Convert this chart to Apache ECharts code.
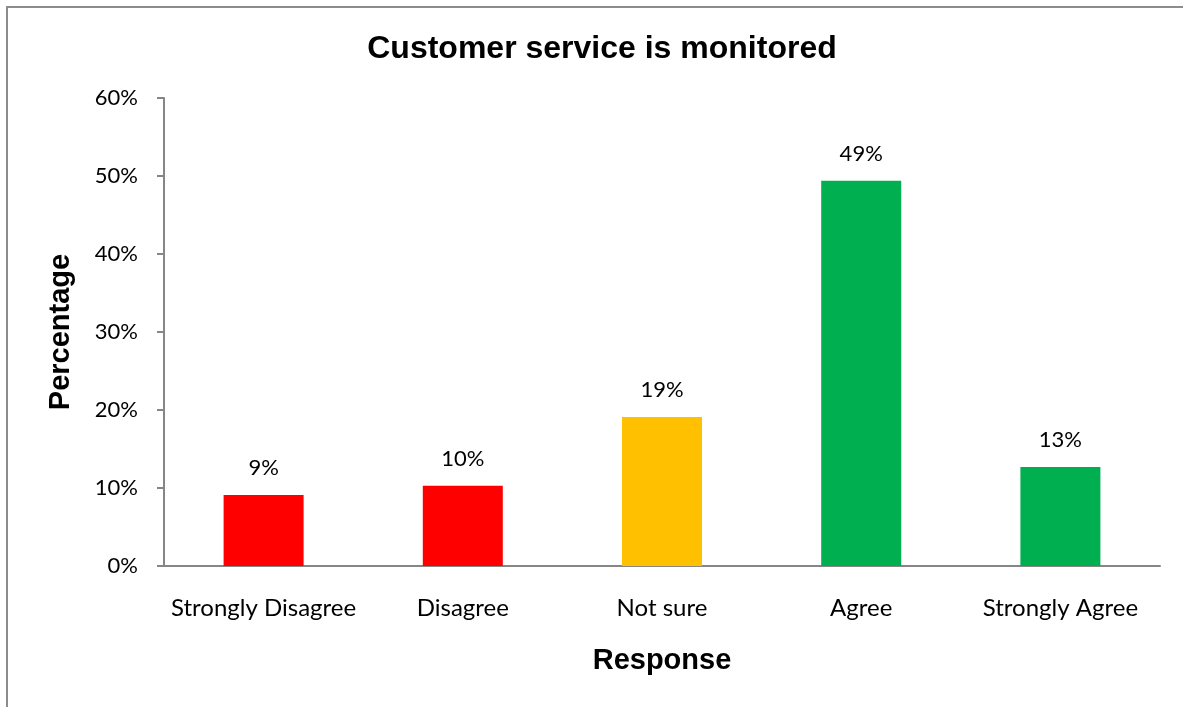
<!DOCTYPE html>
<html>
<head>
<meta charset="utf-8">
<script src="https://cdn.jsdelivr.net/npm/echarts@6/dist/echarts.min.js"></script>
<style>
  html, body { margin: 0; padding: 0; background: #fff; }
  #chart { width: 1183px; height: 707px; }
</style>
</head>
<body>
<div id="chart"></div>
<script>
// Survey responses: share of respondents per answer
const categories = ['Strongly Disagree', 'Disagree', 'Not sure', 'Agree', 'Strongly Agree'];
const percentages = [9.1, 10.3, 19.1, 49.4, 12.7];
const barColors = ['#FF0000', '#FF0000', '#FFC000', '#00B050', '#00B050'];
const yTicks = { min: 0, max: 60, interval: 10 };

const tickFont = 'Lato, "Open Sans", sans-serif';
const boldFont = '"Liberation Sans", Arial, sans-serif';

const chart = echarts.init(document.getElementById('chart'), null, { renderer: 'canvas' });

chart.setOption({
  backgroundColor: '#ffffff',
  animation: false,
  title: {
    text: 'Customer service is monitored',
    left: 597,
    top: 28,
    textAlign: 'center',
    textStyle: { fontFamily: boldFont, fontWeight: 'bold', fontSize: 32, color: '#000' }
  },
  graphic: [{
    type: 'rect',
    shape: { x: 7, y: 7, width: 1300, height: 800 },
    style: { fill: 'none', stroke: '#8c8c8c', lineWidth: 2 },
    silent: true
  }],
  grid: { left: 164, right: 23, top: 98, bottom: 141, containLabel: false },
  xAxis: {
    type: 'category',
    data: categories,
    name: 'Response',
    nameLocation: 'middle',
    nameGap: 80,
    nameTextStyle: { fontFamily: boldFont, fontWeight: 'bold', fontSize: 29, color: '#000' },
    axisLine: { lineStyle: { color: '#868686', width: 2 } },
    axisTick: { show: false },
    axisLabel: { fontFamily: tickFont, fontSize: 24, color: '#000', margin: 30, interval: 0 }
  },
  yAxis: {
    type: 'value',
    min: yTicks.min,
    max: yTicks.max,
    interval: yTicks.interval,
    name: 'Percentage',
    nameLocation: 'middle',
    nameGap: 89,
    nameRotate: 90,
    nameTextStyle: { fontFamily: boldFont, fontWeight: 'bold', fontSize: 29, color: '#000' },
    splitLine: { show: false },
    axisLine: { show: true, lineStyle: { color: '#868686', width: 2 } },
    axisTick: { show: true, length: 7, lineStyle: { color: '#868686', width: 2 } },
    axisLabel: { fontFamily: tickFont, fontSize: 22, color: '#000', margin: 26,
                 formatter: v => v + '%' }
  },
  series: [{
    type: 'bar',
    barWidth: 80,
    data: percentages.map((v, i) => ({ value: v, itemStyle: { color: barColors[i] } })),
    label: {
      show: true,
      position: 'top',
      distance: 16,
      fontFamily: tickFont,
      fontSize: 22,
      color: '#000',
      formatter: p => Math.round(p.value) + '%'
    }
  }]
});
</script>
</body>
</html>
